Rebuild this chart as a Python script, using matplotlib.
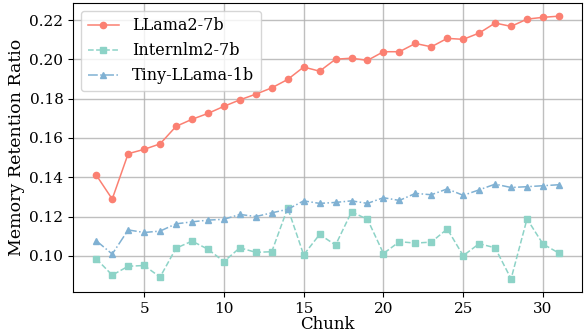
import matplotlib
matplotlib.use('Agg')
from matplotlib import pyplot as plt

plt.rcParams['font.family'] = 'DejaVu Serif'
plt.rcParams['font.size'] = 11

chunks = list(range(2, 32))

llama2_7b = [0.1411, 0.1289, 0.1520, 0.1542, 0.1570, 0.1659, 0.1695, 0.1725,
             0.1761, 0.1794, 0.1823, 0.1855, 0.1898, 0.1961, 0.1940, 0.2001,
             0.2006, 0.1995, 0.2039, 0.2039, 0.2081, 0.2064, 0.2107, 0.2102,
             0.2134, 0.2185, 0.2168, 0.2205, 0.2214, 0.2220]

internlm2_7b = [0.0985, 0.0902, 0.0947, 0.0951, 0.0892, 0.1039, 0.1075, 0.1034,
                0.0971, 0.1041, 0.1018, 0.1021, 0.1244, 0.1005, 0.1109, 0.1055,
                0.1224, 0.1186, 0.1012, 0.1072, 0.1065, 0.1070, 0.1137, 0.1001,
                0.1062, 0.1041, 0.0883, 0.1188, 0.1060, 0.1014]

tiny_llama_1b = [0.1077, 0.1009, 0.1132, 0.1119, 0.1126, 0.1163, 0.1173, 0.1182,
                 0.1186, 0.1211, 0.1200, 0.1219, 0.1237, 0.1280, 0.1267, 0.1272,
                 0.1280, 0.1267, 0.1296, 0.1282, 0.1318, 0.1311, 0.1341, 0.1308,
                 0.1336, 0.1365, 0.1348, 0.1352, 0.1357, 0.1362]

fig, ax = plt.subplots(figsize=(5.85, 3.36), dpi=100)

ax.plot(chunks, llama2_7b, color='#fb8072', linestyle='-', marker='o',
        markersize=4.5, linewidth=1.1, label='LLama2-7b')
ax.plot(chunks, internlm2_7b, color='#8dd3c7', linestyle='--', marker='s',
        markersize=4.5, linewidth=1.1, label='Internlm2-7b')
ax.plot(chunks, tiny_llama_1b, color='#80b1d3', linestyle='-.', marker='^',
        markersize=5, linewidth=1.1, label='Tiny-LLama-1b')

ax.set_xlabel('Chunk', fontsize=12, labelpad=0)
ax.set_ylabel('Memory Retention Ratio', fontsize=12.5, labelpad=3)
ax.grid(True, color='#b0b0b0', alpha=0.8, linewidth=1)
ax.legend(loc='upper left', fontsize=11.5)

fig.subplots_adjust(left=0.125, right=0.995, top=0.991, bottom=0.131)
fig.savefig('out.png', dpi=100)
